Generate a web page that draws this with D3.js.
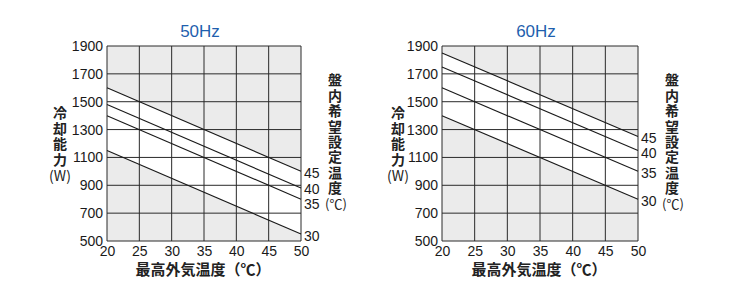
<!DOCTYPE html>
<html><head><meta charset="utf-8">
<script src="https://cdn.jsdelivr.net/npm/d3@7"></script>
<style>
body{margin:0;background:#fff;}
svg text{font-family:"Liberation Sans",Arial,sans-serif;}
.cjk{font-family:"Noto Sans CJK JP",sans-serif;}
.vert{writing-mode:vertical-rl;text-orientation:upright;}
</style></head><body>
<svg id="c" width="740" height="300"></svg>
<script>
const xTicks = [20,25,30,35,40,45,50];
const yTicks = [500,700,900,1100,1300,1500,1700,1900];
const setTemps = ["45","40","35","30"];
const hz50 = {
  "45":[1600,1000],
  "40":[1480,880],
  "35":[1400,800],
  "30":[1150,550]
};
const hz60 = {
  "45":[1850,1250],
  "40":[1750,1150],
  "35":[1600,1000],
  "30":[1400,800]
};
const xEnds = [20,50];
const titles = ["50Hz","60Hz"];
const yTitle = "冷却能力";
const yUnit = "(W)";
const rTitle = "盤内希望設定温度";
const rUnit = "(℃)";
const xTitle = "最高外気温度（℃）";

const svg = d3.select("#c");
const panels = [
  {title:titles[0], data:hz50, left:107, right:301, top:46, bottom:241,
   labelY:{"45":173,"40":189,"35":204,"30":236}, rx:335, rTop:73, ytx:60},
  {title:titles[1], data:hz60, left:442, right:638, top:46, bottom:241,
   labelY:{"45":138,"40":153,"35":173,"30":201}, rx:672, rTop:73, ytx:398}
];

panels.forEach(p=>{
  const x = d3.scaleLinear().domain([20,50]).range([p.left,p.right]);
  const y = d3.scaleLinear().domain([500,1900]).range([p.bottom,p.top]);
  const g = svg.append("g");
  g.append("rect").attr("x",p.left).attr("y",p.top).attr("width",p.right-p.left)
   .attr("height",p.bottom-p.top).attr("fill","#ebebeb");
  const top = p.data["45"], bot = p.data["30"];
  const band = xEnds.map((xv,i)=>({x:xv,y0:bot[i],y1:top[i]}));
  g.append("path").datum(band)
   .attr("d", d3.area().x(d=>x(d.x)).y0(d=>y(d.y0)).y1(d=>y(d.y1)))
   .attr("fill","#fff");
  g.selectAll(".gx").data(xTicks).join("line")
   .attr("x1",d=>x(d)).attr("x2",d=>x(d)).attr("y1",p.top).attr("y2",p.bottom)
   .attr("stroke","#2a2a2a").attr("stroke-width",1);
  g.selectAll(".gy").data(yTicks).join("line")
   .attr("x1",p.left).attr("x2",p.right).attr("y1",d=>y(d)).attr("y2",d=>y(d))
   .attr("stroke","#2a2a2a").attr("stroke-width",1);
  const ya = d3.axisLeft(y).tickValues(yTicks).tickFormat(d3.format("d")).tickSize(0).tickPadding(4);
  const yg = g.append("g").attr("transform",`translate(${p.left},0)`).call(ya);
  yg.select(".domain").remove();
  yg.selectAll("text").attr("font-size",14).attr("fill","#1a1a1a")
    .style("font-family","'Liberation Sans',Arial,sans-serif");
  const xa = d3.axisBottom(x).tickValues(xTicks).tickFormat(d3.format("d")).tickSize(0).tickPadding(5);
  const xg = g.append("g").attr("transform",`translate(0,${p.bottom})`).call(xa);
  xg.select(".domain").remove();
  xg.selectAll("text").attr("font-size",14).attr("fill","#1a1a1a")
    .style("font-family","'Liberation Sans',Arial,sans-serif");
  const line = d3.line().x(d=>x(d[0])).y(d=>y(d[1]));
  setTemps.forEach(k=>{
    const pts = xEnds.map((xv,i)=>[xv,p.data[k][i]]);
    g.append("path").attr("d",line(pts)).attr("fill","none")
     .attr("stroke","#1a1a1a").attr("stroke-width",1.1);
    g.append("text").attr("x",p.right+3).attr("y",p.labelY[k]).attr("dy","0.35em")
     .attr("font-size",14).attr("fill","#1a1a1a").text(k);
  });
  g.append("text").attr("x",(p.left+p.right)/2-4).attr("y",37).attr("text-anchor","middle")
   .attr("font-size",17).attr("fill","#1f5fae").text(p.title);
  g.append("text").attr("class","cjk vert").attr("x",p.ytx).attr("y",106)
   .attr("font-size",14).attr("font-weight","bold").attr("letter-spacing",1.5)
   .attr("fill","#222").text(yTitle);
  g.append("text").attr("class","cjk").attr("x",p.ytx).attr("y",176).attr("dy","0.35em")
   .attr("text-anchor","middle").attr("font-size",14).attr("fill","#222").text(yUnit);
  g.append("text").attr("class","cjk vert").attr("x",p.rx).attr("y",p.rTop)
   .attr("font-size",14).attr("font-weight","bold").attr("letter-spacing",1.4)
   .attr("fill","#222").text(rTitle);
  g.append("text").attr("class","cjk").attr("x",p.rx+1).attr("y",p.rTop+131).attr("dy","0.35em")
   .attr("text-anchor","middle").attr("font-size",13).attr("fill","#222").text(rUnit);
  g.append("text").attr("class","cjk").attr("x",(p.left+p.right)/2-1).attr("y",270).attr("dy","0.35em")
   .attr("text-anchor","middle").attr("font-size",15).attr("font-weight","bold").attr("fill","#222").text(xTitle);
});
</script></body></html>
